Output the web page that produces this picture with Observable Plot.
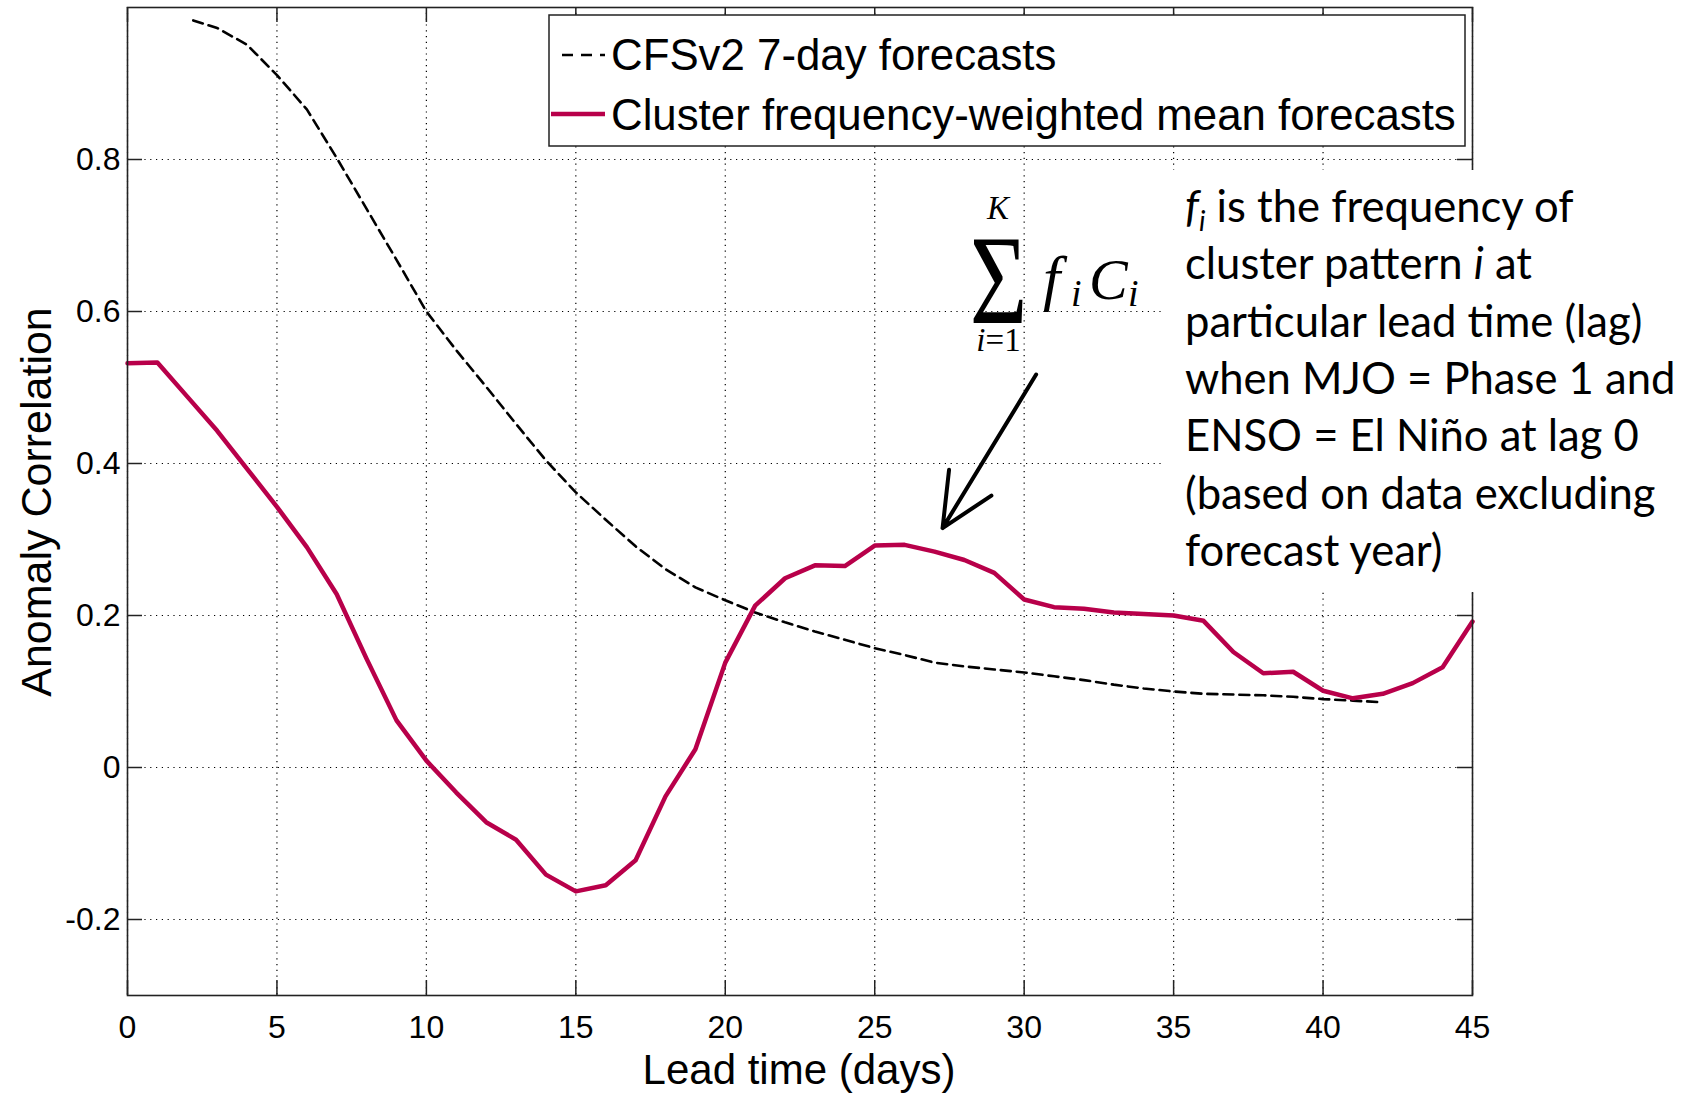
<!DOCTYPE html>
<html><head><meta charset="utf-8">
<script src="https://cdn.jsdelivr.net/npm/d3@7"></script>
<script src="https://cdn.jsdelivr.net/npm/@observablehq/plot@0.6"></script>
<style>
html,body{margin:0;padding:0;background:#fff;}
#chart{position:relative;width:1687px;height:1094px;overflow:hidden;}
</style></head><body><div id="chart"></div>
<script>
// ---- data ----
const seriesNames = ["CFSv2 7-day forecasts", "Cluster frequency-weighted mean forecasts"];
const cfsDays = [2.2,3,4,5,6,7,8,9,10,11,12,13,14,15,16,17,18,19,20,21,22,23,24,25,26,27,28,29,30,31,32,33,34,35,36,37,38,39,40,41,41.9];
const cfsValues = [0.983,0.973,0.951,0.911,0.866,0.802,0.735,0.668,0.600,0.549,0.501,0.452,0.404,0.362,0.326,0.291,0.261,0.237,0.220,0.204,0.191,0.179,0.168,0.157,0.148,0.138,0.133,0.129,0.125,0.120,0.115,0.109,0.104,0.100,0.097,0.096,0.095,0.093,0.090,0.088,0.086];
const clusterDays = [0,1,2,3,4,5,6,7,8,9,10,11,12,13,14,15,16,17,18,19,20,21,22,23,24,25,26,27,28,29,30,31,32,33,34,35,36,37,38,39,40,41,42,43,44,45];
const clusterValues = [0.532,0.533,0.488,0.443,0.393,0.343,0.290,0.228,0.143,0.062,0.009,-0.033,-0.072,-0.095,-0.141,-0.163,-0.155,-0.122,-0.038,0.024,0.138,0.213,0.249,0.266,0.265,0.292,0.293,0.284,0.273,0.256,0.221,0.211,0.209,0.204,0.202,0.200,0.193,0.152,0.124,0.126,0.101,0.091,0.097,0.111,0.132,0.192];
const xTicks = [0,5,10,15,20,25,30,35,40,45];
const yTicks = [-0.2,0,0.2,0.4,0.6,0.8];
const xDomain = [0,45];
const yDomain = [-0.3,1.0];
const xTitle = "Lead time (days)";
const yTitle = "Anomaly Correlation";
const arrowStart = [30.4, 0.517];
const arrowEnd = [27.27, 0.315];
const noteLines = [
  [["f","sub"],[" is the frequency of",""]],
  [["cluster pattern ",""],["i","it"],[" at",""]],
  [["particular lead time (lag)",""]],
  [["when MJO = Phase 1 and",""]],
  [["ENSO = El Niño at lag 0",""]],
  [["(based on data excluding",""]],
  [["forecast year)",""]]
];

// ---- styles ----
const colBlack = "#000";
const colRed = "#b8004a";
const sansFont = "'Liberation Sans', Arial, Helvetica, sans-serif";
const serifFont = "'Liberation Serif', 'Times New Roman', serif";
const noteFont = "Lato, 'Open Sans', sans-serif";

const cfs = cfsDays.map((d,i)=>({day:d, value:cfsValues[i]}));
const cluster = clusterDays.map((d,i)=>({day:d, value:clusterValues[i]}));

const W = 1687, H = 1094;
const mL = 127, mR = W - 1472, mT = 7, mB = H - 995;
const tk = 15;
const grid = {stroke: "#000", strokeOpacity: 1, strokeWidth: 1.2, strokeDasharray: "1.2,4.6"};
const tickStyle = {stroke: "#222", strokeWidth: 1.5};

const chart = Plot.plot({
  width: W, height: H,
  marginLeft: mL, marginRight: mR, marginTop: mT, marginBottom: mB,
  style: {fontFamily: sansFont, fontSize: "32px", color: "#000", background: "#fff"},
  x: {domain: xDomain, label: null},
  y: {domain: yDomain, label: null},
  marks: [
    Plot.gridX(xTicks, grid),
    Plot.gridY(yTicks, grid),
    Plot.ruleX(xTicks, {x: d=>d, y1: yDomain[0], y2: yDomain[0], insetTop: -tk, ...tickStyle}),
    Plot.ruleX(xTicks, {x: d=>d, y1: yDomain[1], y2: yDomain[1], insetBottom: -tk, ...tickStyle}),
    Plot.ruleY(yTicks, {y: d=>d, x1: xDomain[0], x2: xDomain[0], insetRight: -tk, ...tickStyle}),
    Plot.ruleY(yTicks, {y: d=>d, x1: xDomain[1], x2: xDomain[1], insetLeft: -tk, ...tickStyle}),
    Plot.axisX(xTicks, {tickSize: 0, tickPadding: 20, fontSize: 32, label: null, tickFormat: d=>String(d)}),
    Plot.axisY(yTicks, {tickSize: 0, tickPadding: 7, fontSize: 32, label: null, tickFormat: d=>String(d)}),
    Plot.line(cfs, {x: "day", y: "value", stroke: colBlack, strokeWidth: 2.6, strokeDasharray: "10,6"}),
    Plot.line(cluster, {x: "day", y: "value", stroke: colRed, strokeWidth: 4.5, strokeLinejoin: "round"}),
    Plot.frame({stroke: "#222", strokeWidth: 1.6}),
    Plot.arrow([{x1: arrowStart[0], y1: arrowStart[1], x2: arrowEnd[0], y2: arrowEnd[1]}],
      {x1: "x1", y1: "y1", x2: "x2", y2: "y2", stroke: colBlack, strokeWidth: 4, headLength: 22, headAngle: 50})
  ]
});
document.getElementById("chart").appendChild(chart);

const svg = d3.select(chart);

// axis titles
svg.append("text").attr("x", 799).attr("y", 1084).attr("text-anchor", "middle")
  .attr("font-family", sansFont).attr("font-size", 42).attr("fill", "#000").text(xTitle);
svg.append("text").attr("transform", "translate(51,502) rotate(-90)").attr("text-anchor", "middle")
  .attr("font-family", sansFont).attr("font-size", 43).attr("fill", "#000").text(yTitle);

// legend
const lg = svg.append("g").attr("text-anchor", "start");
lg.append("rect").attr("x", 549).attr("y", 15).attr("width", 916).attr("height", 131)
  .attr("fill", "#fff").attr("stroke", "#222").attr("stroke-width", 1.5);
lg.append("line").attr("x1", 562).attr("x2", 605).attr("y1", 55).attr("y2", 55)
  .attr("stroke", colBlack).attr("stroke-width", 2.4).attr("stroke-dasharray", "11,8");
lg.append("line").attr("x1", 551).attr("x2", 605).attr("y1", 114).attr("y2", 114)
  .attr("stroke", colRed).attr("stroke-width", 4.5);
lg.append("text").attr("x", 611).attr("y", 70).attr("font-family", sansFont).attr("font-size", 43.8).attr("fill", "#000").text(seriesNames[0]);
lg.append("text").attr("x", 611).attr("y", 130).attr("font-family", sansFont).attr("font-size", 43.8).attr("fill", "#000").text(seriesNames[1]);

// formula
const fg = svg.append("g").attr("font-family", serifFont).attr("fill", "#000").attr("text-anchor", "start");
fg.append("text").attr("x", 998).attr("y", 219).attr("text-anchor", "middle").attr("font-style", "italic").attr("font-size", 33).text("K");
fg.append("text").attr("transform", "translate(998.5,323) scale(0.78,1)").attr("text-anchor", "middle").attr("font-size", 127).text("Σ");
const i1 = fg.append("text").attr("x", 998.5).attr("y", 351).attr("text-anchor", "middle").attr("font-size", 33);
i1.append("tspan").attr("font-style", "italic").text("i");
i1.append("tspan").text("=1");
fg.append("text").attr("x", 1043).attr("y", 299).attr("font-style", "italic").attr("font-size", 62).text("f");
fg.append("text").attr("x", 1071).attr("y", 306).attr("font-style", "italic").attr("font-size", 38).text("i");
fg.append("text").attr("x", 1089).attr("y", 299).attr("font-style", "italic").attr("font-size", 58).text("C");
fg.append("text").attr("x", 1128).attr("y", 306).attr("font-style", "italic").attr("font-size", 38).text("i");

// note box
svg.append("rect").attr("x", 1165).attr("y", 170).attr("width", 530).attr("height", 422).attr("fill", "#fff");
const ng = svg.append("g").attr("font-family", noteFont).attr("font-size", 43.6).attr("fill", "#000").attr("text-anchor", "start");
noteLines.forEach((segs, k) => {
  const t = ng.append("text").attr("x", 1185).attr("y", 221.8 + k * 57.4);
  segs.forEach(([s, st], j) => {
    if (st === "sub") {
      t.append("tspan").attr("font-style", "italic").text(s);
      t.append("tspan").attr("font-style", "italic").attr("font-size", 28).attr("dy", 9).text("i");
    } else if (st === "it") {
      t.append("tspan").attr("font-style", "italic").text(s);
    } else {
      const sp = t.append("tspan").text(s);
      if (j > 0 && segs[j-1][1] === "sub") sp.attr("dy", -9);
    }
  });
});
</script></body></html>
